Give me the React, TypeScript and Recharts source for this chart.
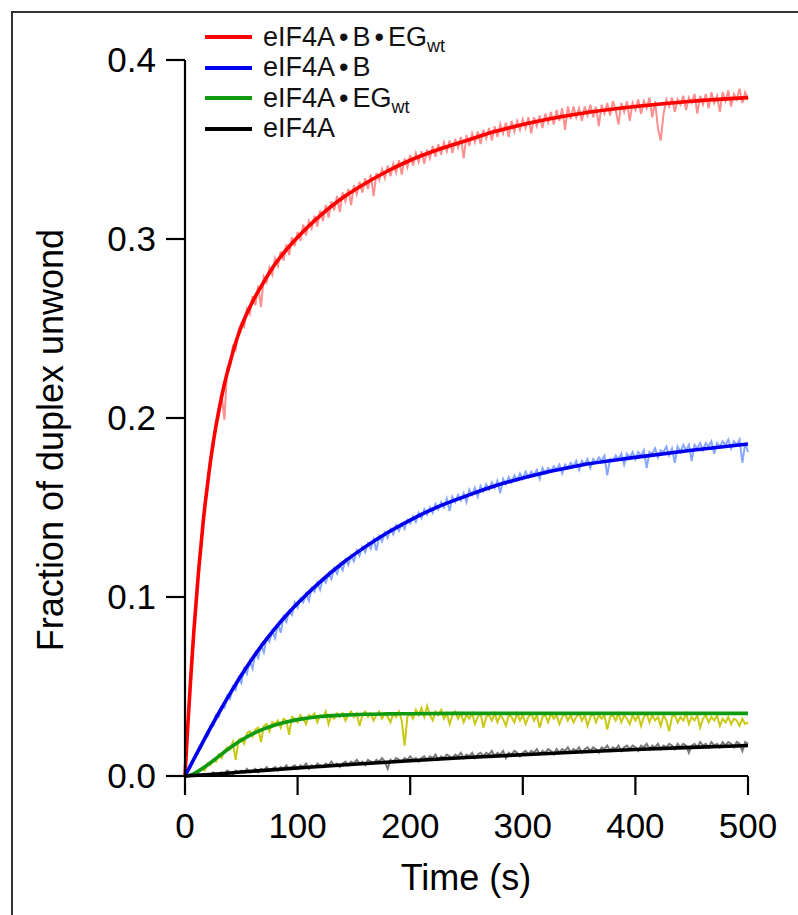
import { LineChart, Line, XAxis, YAxis, Label } from "recharts";

// time grid of the raw traces (s)
const rawTime = [
  0, 2.5, 5, 7.5, 10, 12.5, 15, 17.5, 20, 22.5, 25, 27.5, 30, 32.5, 35, 37.5, 40, 42.5, 45, 47.5,
  50, 52.5, 55, 57.5, 60, 62.5, 65, 67.5, 70, 72.5, 75, 77.5, 80, 82.5, 85, 87.5, 90, 92.5, 95, 97.5,
  100, 102.5, 105, 107.5, 110, 112.5, 115, 117.5, 120, 122.5, 125, 127.5, 130, 132.5, 135, 137.5, 140, 142.5, 145, 147.5,
  150, 152.5, 155, 157.5, 160, 162.5, 165, 167.5, 170, 172.5, 175, 177.5, 180, 182.5, 185, 187.5, 190, 192.5, 195, 197.5,
  200, 202.5, 205, 207.5, 210, 212.5, 215, 217.5, 220, 222.5, 225, 227.5, 230, 232.5, 235, 237.5, 240, 242.5, 245, 247.5,
  250, 252.5, 255, 257.5, 260, 262.5, 265, 267.5, 270, 272.5, 275, 277.5, 280, 282.5, 285, 287.5, 290, 292.5, 295, 297.5,
  300, 302.5, 305, 307.5, 310, 312.5, 315, 317.5, 320, 322.5, 325, 327.5, 330, 332.5, 335, 337.5, 340, 342.5, 345, 347.5,
  350, 352.5, 355, 357.5, 360, 362.5, 365, 367.5, 370, 372.5, 375, 377.5, 380, 382.5, 385, 387.5, 390, 392.5, 395, 397.5,
  400, 402.5, 405, 407.5, 410, 412.5, 415, 417.5, 420, 422.5, 425, 427.5, 430, 432.5, 435, 437.5, 440, 442.5, 445, 447.5,
  450, 452.5, 455, 457.5, 460, 462.5, 465, 467.5, 470, 472.5, 475, 477.5, 480, 482.5, 485, 487.5, 490, 492.5, 495, 497.5, 500,
];

const redRaw = [
  0, 0.028, 0.052, 0.08, 0.096, 0.119, 0.131, 0.152, 0.16, 0.178, 0.183, 0.198, 0.201, 0.214, 0.199, 0.228, 0.229, 0.24, 0.238, 0.249,
  0.253, 0.251, 0.261, 0.258, 0.268, 0.263, 0.274, 0.262, 0.279, 0.276, 0.284, 0.28, 0.289, 0.285, 0.293, 0.288, 0.297, 0.291, 0.301, 0.296,
  0.304, 0.299, 0.308, 0.302, 0.31, 0.306, 0.313, 0.307, 0.316, 0.31, 0.319, 0.312, 0.321, 0.316, 0.324, 0.315, 0.326, 0.321, 0.328, 0.319,
  0.33, 0.325, 0.332, 0.326, 0.334, 0.328, 0.336, 0.324, 0.337, 0.333, 0.339, 0.334, 0.341, 0.335, 0.342, 0.337, 0.344, 0.336, 0.345, 0.34,
  0.347, 0.341, 0.348, 0.343, 0.349, 0.342, 0.35, 0.345, 0.352, 0.346, 0.353, 0.347, 0.354, 0.349, 0.355, 0.348, 0.356, 0.351, 0.357, 0.345,
  0.358, 0.352, 0.359, 0.354, 0.36, 0.353, 0.361, 0.356, 0.362, 0.355, 0.363, 0.357, 0.364, 0.359, 0.365, 0.357, 0.366, 0.36, 0.366, 0.361,
  0.367, 0.362, 0.368, 0.359, 0.368, 0.363, 0.369, 0.362, 0.37, 0.365, 0.371, 0.364, 0.372, 0.366, 0.373, 0.361, 0.374, 0.367, 0.374, 0.368,
  0.373, 0.366, 0.374, 0.369, 0.375, 0.368, 0.374, 0.363, 0.375, 0.37, 0.376, 0.369, 0.377, 0.372, 0.364, 0.376, 0.371, 0.377, 0.366, 0.376,
  0.372, 0.378, 0.37, 0.377, 0.373, 0.379, 0.368, 0.377, 0.362, 0.355, 0.37, 0.378, 0.374, 0.379, 0.371, 0.378, 0.375, 0.38, 0.372, 0.379,
  0.376, 0.381, 0.37, 0.38, 0.375, 0.381, 0.373, 0.382, 0.376, 0.38, 0.371, 0.382, 0.377, 0.383, 0.374, 0.381, 0.378, 0.384, 0.376, 0.382, 0.378,
];

const blueRaw = [
  0, 0.004, 0.005, 0.01, 0.011, 0.016, 0.017, 0.022, 0.022, 0.028, 0.028, 0.034, 0.033, 0.039, 0.038, 0.045, 0.043, 0.05, 0.048, 0.055,
  0.052, 0.06, 0.057, 0.064, 0.06, 0.069, 0.066, 0.073, 0.069, 0.077, 0.075, 0.081, 0.077, 0.085, 0.08, 0.089, 0.086, 0.092, 0.09, 0.097,
  0.094, 0.099, 0.097, 0.102, 0.098, 0.105, 0.103, 0.108, 0.104, 0.11, 0.108, 0.113, 0.11, 0.116, 0.113, 0.118, 0.115, 0.121, 0.118, 0.123,
  0.12, 0.126, 0.123, 0.128, 0.125, 0.13, 0.127, 0.132, 0.126, 0.134, 0.131, 0.136, 0.133, 0.138, 0.135, 0.14, 0.137, 0.141, 0.138, 0.143,
  0.141, 0.145, 0.142, 0.147, 0.144, 0.149, 0.146, 0.15, 0.147, 0.152, 0.149, 0.153, 0.15, 0.155, 0.148, 0.156, 0.153, 0.157, 0.154, 0.158,
  0.153, 0.16, 0.157, 0.161, 0.156, 0.162, 0.159, 0.163, 0.16, 0.164, 0.161, 0.165, 0.158, 0.166, 0.163, 0.167, 0.164, 0.168, 0.165, 0.169,
  0.166, 0.17, 0.167, 0.17, 0.168, 0.171, 0.166, 0.172, 0.169, 0.172, 0.17, 0.173, 0.171, 0.174, 0.169, 0.174, 0.172, 0.175, 0.173, 0.176,
  0.171, 0.176, 0.174, 0.177, 0.172, 0.177, 0.175, 0.178, 0.176, 0.179, 0.168, 0.177, 0.176, 0.179, 0.177, 0.18, 0.174, 0.18, 0.178, 0.181,
  0.177, 0.181, 0.179, 0.182, 0.172, 0.181, 0.18, 0.183, 0.178, 0.182, 0.181, 0.184, 0.179, 0.183, 0.175, 0.184, 0.181, 0.185, 0.182, 0.185,
  0.176, 0.185, 0.183, 0.186, 0.182, 0.186, 0.184, 0.187, 0.18, 0.186, 0.184, 0.187, 0.185, 0.188, 0.183, 0.187, 0.185, 0.188, 0.175, 0.186, 0.181,
];

const greenRaw = [
  0, 0, 0.001, 0, 0.002, 0.003, 0.004, 0.003, 0.007, 0.006, 0.009, 0.008, 0.012, 0.01, 0.014, 0.016, 0.015, 0.019, 0.009, 0.02,
  0.021, 0.018, 0.024, 0.025, 0.022, 0.026, 0.027, 0.019, 0.028, 0.029, 0.025, 0.03, 0.029, 0.031, 0.027, 0.032, 0.031, 0.023, 0.033, 0.032,
  0.03, 0.034, 0.032, 0.029, 0.034, 0.033, 0.035, 0.03, 0.034, 0.033, 0.036, 0.029, 0.034, 0.032, 0.035, 0.033, 0.035, 0.031, 0.034, 0.036,
  0.033, 0.035, 0.028, 0.034, 0.036, 0.033, 0.035, 0.031, 0.034, 0.036, 0.032, 0.035, 0.033, 0.03, 0.035, 0.033, 0.036, 0.031, 0.017, 0.033,
  0.035, 0.032, 0.037, 0.034, 0.038, 0.033, 0.039, 0.034, 0.031, 0.036, 0.034, 0.037, 0.032, 0.035, 0.029, 0.034, 0.036, 0.032, 0.035, 0.03,
  0.034, 0.032, 0.035, 0.029, 0.033, 0.035, 0.027, 0.033, 0.034, 0.031, 0.035, 0.03, 0.034, 0.032, 0.028, 0.034, 0.033, 0.03, 0.035, 0.031,
  0.034, 0.029, 0.033, 0.035, 0.031, 0.034, 0.027, 0.033, 0.034, 0.03, 0.035, 0.032, 0.034, 0.029, 0.033, 0.035, 0.031, 0.034, 0.03, 0.033,
  0.035, 0.031, 0.034, 0.028, 0.033, 0.035, 0.03, 0.034, 0.032, 0.034, 0.026, 0.033, 0.034, 0.031, 0.035, 0.03, 0.034, 0.032, 0.029, 0.034,
  0.031, 0.034, 0.028, 0.033, 0.035, 0.03, 0.034, 0.031, 0.033, 0.028, 0.034, 0.031, 0.025, 0.033, 0.034, 0.03, 0.033, 0.031, 0.035, 0.029,
  0.033, 0.031, 0.034, 0.027, 0.032, 0.034, 0.03, 0.033, 0.031, 0.034, 0.028, 0.032, 0.03, 0.033, 0.029, 0.032, 0.031, 0.028, 0.032, 0.029, 0.03,
];

const blackRaw = [
  0, 0, 0.001, 0, 0, 0.001, 0, 0.001, 0.001, 0, 0.002, 0.001, 0.001, 0.002, 0.001, 0.003, 0.002, 0.001, 0.003, 0.002,
  0.003, 0.002, 0.004, 0.002, 0.003, 0.004, 0.002, 0.004, 0.003, 0.005, 0.003, 0.004, 0.005, 0.003, 0.005, 0.004, 0.006, 0.004, 0.005, 0.006,
  0.004, 0.006, 0.005, 0.007, 0.004, 0.006, 0.005, 0.007, 0.006, 0.005, 0.007, 0.006, 0.008, 0.006, 0.007, 0.005, 0.007, 0.008, 0.006, 0.008,
  0.007, 0.009, 0.007, 0.008, 0.006, 0.009, 0.008, 0.007, 0.009, 0.008, 0.01, 0.008, 0.004, 0.009, 0.008, 0.01, 0.009, 0.008, 0.01, 0.009,
  0.011, 0.009, 0.01, 0.008, 0.01, 0.011, 0.009, 0.011, 0.01, 0.012, 0.009, 0.011, 0.01, 0.012, 0.011, 0.01, 0.012, 0.011, 0.013, 0.01,
  0.012, 0.011, 0.013, 0.01, 0.012, 0.013, 0.011, 0.013, 0.012, 0.014, 0.011, 0.013, 0.012, 0.014, 0.01, 0.013, 0.012, 0.014, 0.013, 0.011,
  0.013, 0.014, 0.012, 0.014, 0.013, 0.015, 0.012, 0.014, 0.013, 0.015, 0.014, 0.012, 0.015, 0.013, 0.015, 0.014, 0.016, 0.013, 0.015, 0.014,
  0.016, 0.013, 0.015, 0.016, 0.014, 0.016, 0.015, 0.013, 0.016, 0.015, 0.017, 0.014, 0.016, 0.015, 0.017, 0.014, 0.016, 0.017, 0.015, 0.017,
  0.016, 0.014, 0.017, 0.016, 0.018, 0.015, 0.017, 0.016, 0.018, 0.015, 0.017, 0.016, 0.018, 0.017, 0.015, 0.018, 0.016, 0.018, 0.017, 0.013,
  0.017, 0.018, 0.016, 0.019, 0.017, 0.018, 0.016, 0.019, 0.017, 0.018, 0.016, 0.019, 0.017, 0.019, 0.018, 0.016, 0.019, 0.018, 0.014, 0.019, 0.018,
];

// fitted curves
const redFitTime = [0, 2, 5, 8, 12, 16, 20, 25, 30, 35, 40, 45, 50, 60, 70, 80, 90, 100, 120, 140, 160, 180, 200, 225, 250, 275, 300, 350, 400, 450, 500];
const redFit = [0, 0.023, 0.054, 0.082, 0.114, 0.141, 0.163, 0.186, 0.204, 0.219, 0.231, 0.242, 0.251, 0.265, 0.276, 0.286, 0.294, 0.301, 0.313, 0.323, 0.331, 0.338, 0.344, 0.35, 0.355, 0.36, 0.364, 0.37, 0.374, 0.377, 0.379];

const blueFitTime = [0, 10, 20, 30, 40, 50, 60, 70, 80, 90, 100, 120, 140, 160, 180, 200, 225, 250, 275, 300, 350, 400, 450, 500];
const blueFit = [0, 0.012, 0.0238, 0.0352, 0.046, 0.0563, 0.0658, 0.0745, 0.0825, 0.0898, 0.0965, 0.1085, 0.119, 0.128, 0.136, 0.143, 0.1505, 0.1565, 0.162, 0.1665, 0.1735, 0.178, 0.182, 0.1855];

const greenFitTime = [0, 5, 10, 15, 20, 25, 30, 40, 50, 60, 70, 80, 90, 100, 120, 140, 160, 180, 200, 250, 300, 400, 500];
const greenFit = [0, 0.0005, 0.002, 0.004, 0.0062, 0.0085, 0.011, 0.0158, 0.02, 0.0235, 0.0263, 0.0285, 0.0302, 0.0315, 0.0332, 0.034, 0.0345, 0.0347, 0.0348, 0.035, 0.035, 0.035, 0.035];

const blackFitTime = [0, 25, 50, 100, 150, 200, 250, 300, 350, 400, 450, 500];
const blackFit = [0, 0.001, 0.0022, 0.0045, 0.0066, 0.0085, 0.0103, 0.0119, 0.0134, 0.0148, 0.016, 0.017];

const xTicks = [0, 100, 200, 300, 400, 500];
const yTicks = [0, 0.1, 0.2, 0.3, 0.4];

const legendItems = [
  { name: "eIF4A•B•EG", sub: "wt", color: "#ff0000" },
  { name: "eIF4A•B", sub: "", color: "#0000ee" },
  { name: "eIF4A•EG", sub: "wt", color: "#109a10" },
  { name: "eIF4A", sub: "", color: "#000000" },
];

const zip = (ts: number[], vs: number[]) => ts.map((t, i) => ({ t, v: vs[i] }));

const FONT = "'Liberation Sans', Arial, sans-serif";

// a little room around the bullets, like the original lettering
function LegendName({ name }: { name: string }) {
  const parts = name.split("•");
  return (
    <>
      {parts.map((p, i) => (
        <span key={i}>
          {i > 0 && <span style={{ margin: "0 4px" }}>•</span>}
          {p}
        </span>
      ))}
    </>
  );
}

export default function App() {
  const traces = [
    { key: "redRaw", data: zip(rawTime, redRaw), color: "#ff8f8f" },
    { key: "blueRaw", data: zip(rawTime, blueRaw), color: "#88a8ff" },
    { key: "greenRaw", data: zip(rawTime, greenRaw), color: "#c9c914" },
    { key: "blackRaw", data: zip(rawTime, blackRaw), color: "#7a7a7a" },
  ];
  const fits = [
    { key: "redFit", data: zip(redFitTime, redFit), color: "#ff0000" },
    { key: "blueFit", data: zip(blueFitTime, blueFit), color: "#0000ee" },
    { key: "greenFit", data: zip(greenFitTime, greenFit), color: "#109a10" },
    { key: "blackFit", data: zip(blackFitTime, blackFit), color: "#000000" },
  ];

  return (
    <div
      style={{
        position: "absolute",
        left: 0,
        top: 0,
        width: 798,
        height: 915,
        background: "#fff",
        overflow: "hidden",
        fontFamily: FONT,
      }}
    >
      {/* frame, cut at right and bottom */}
      <div
        style={{
          position: "absolute",
          left: 11,
          top: 11,
          width: 820,
          height: 940,
          borderLeft: "2.5px solid #333",
          borderTop: "2.5px solid #333",
        }}
      />
      <LineChart
        width={798}
        height={915}
        margin={{ top: 60, right: 50, bottom: 79, left: 95 }}
        style={{ position: "absolute", left: 0, top: 0 }}
      >
        <XAxis
          type="number"
          dataKey="t"
          domain={[0, 500]}
          ticks={xTicks}
          height={60}
          stroke="#000"
          strokeWidth={2.2}
          tickSize={19}
          tickMargin={18}
          tick={{ fill: "#000", fontSize: 35, fontFamily: FONT }}
          allowDuplicatedCategory={false}
        >
          <Label
            content={() => (
              <text x={466} y={890} textAnchor="middle" fontSize={36} fontFamily={FONT} fill="#000">
                Time (s)
              </text>
            )}
          />
        </XAxis>
        <YAxis
          type="number"
          domain={[0, 0.4]}
          ticks={yTicks}
          width={90}
          stroke="#000"
          strokeWidth={2.2}
          tickSize={19}
          tickMargin={10}
          tickFormatter={(v: number) => v.toFixed(1)}
          tick={{ fill: "#000", fontSize: 35, fontFamily: FONT }}
        >
          <Label
            content={() => (
              <text
                x={63}
                y={440}
                transform="rotate(-90 63 440)"
                textAnchor="middle"
                fontSize={36}
                fontFamily={FONT}
                fill="#000"
              >
                Fraction of duplex unwond
              </text>
            )}
          />
        </YAxis>
        {traces.map((s) => (
          <Line
            key={s.key}
            data={s.data}
            dataKey="v"
            type="linear"
            stroke={s.color}
            strokeWidth={2}
            dot={false}
            activeDot={false}
            isAnimationActive={false}
          />
        ))}
        {fits.map((s) => (
          <Line
            key={s.key}
            data={s.data}
            dataKey="v"
            type="monotone"
            stroke={s.color}
            strokeWidth={3.6}
            dot={false}
            activeDot={false}
            isAnimationActive={false}
          />
        ))}
      </LineChart>
      {/* legend */}
      <div style={{ position: "absolute", left: 205, top: 22 }}>
        {legendItems.map((it) => (
          <div key={it.name} style={{ display: "flex", alignItems: "center", height: 30.5 }}>
            <div style={{ width: 47, height: 4, background: it.color, marginRight: 11 }} />
            <span style={{ fontSize: 27, color: "#111", whiteSpace: "nowrap", lineHeight: 1 }}>
              <LegendName name={it.name} />
              {it.sub && (
                <span style={{ fontSize: 18, position: "relative", top: 6 }}>{it.sub}</span>
              )}
            </span>
          </div>
        ))}
      </div>
    </div>
  );
}
